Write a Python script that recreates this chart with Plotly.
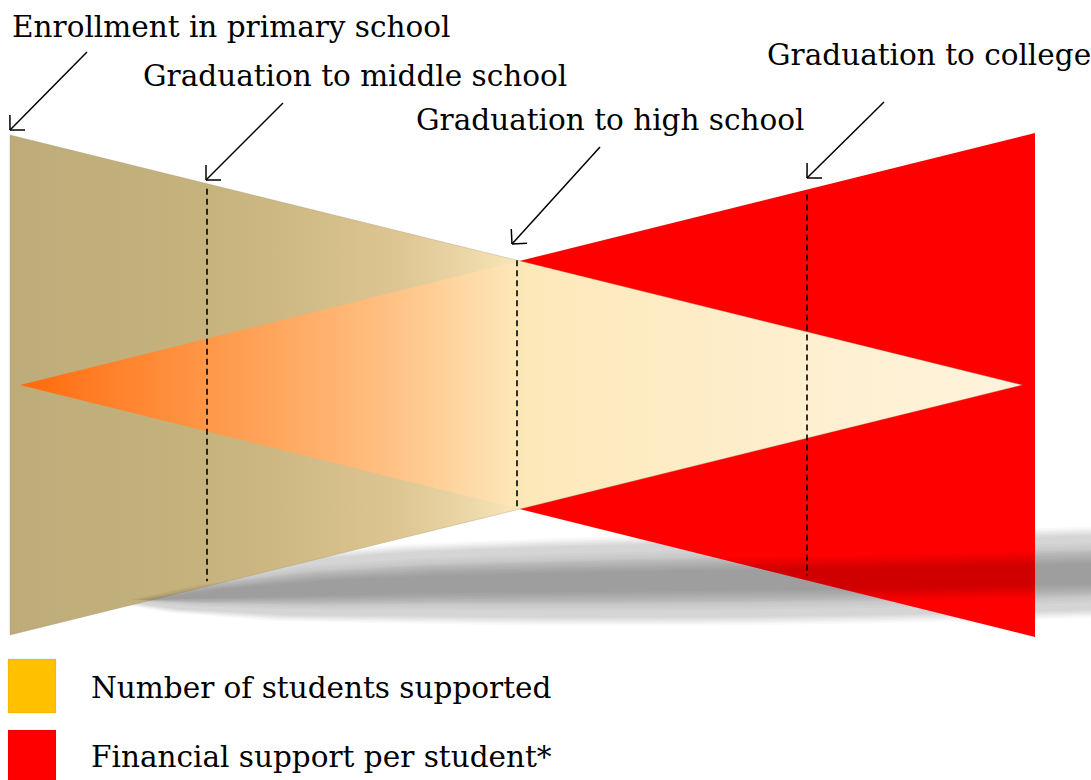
import numpy as np
import plotly.graph_objects as go

# ---------------- data ----------------
stages = ["Enrollment in primary school", "Graduation to middle school",
          "Graduation to high school", "Graduation to college"]
stage_x = [10, 207, 517, 807]          # position of each stage along the pipeline

# "Number of students supported" (half-width of the band) along the pipeline
students_x = [10, 1022]
students_span = [250, 0]

# "Financial support per student*" (half-width of the band) along the pipeline
support_x = [20, 1035]
support_span = [0, 252]

legend_labels = ["Number of students supported", "Financial support per student*"]
legend_colors = ["#FFC000", "#FF0000"]

CENTER = 385
FONT = "DejaVu Serif"
FSIZE = 29.5

fig = go.Figure()

def band_polygon(xs, spans):
    top = [CENTER - s for s in spans]
    bot = [CENTER + s for s in spans]
    px = list(xs) + list(xs[::-1]) + [xs[0]]
    py = top + bot[::-1] + [top[0]]
    return px, py

# soft shadow built from nested translucent lenses
sh_x = np.array([100, 170, 280, 400, 550, 700, 850, 1000, 1100])
sh_c = np.array([600, 594, 588, 584, 582, 580, 578, 575, 572])     # centre line
sh_h = np.array([0, 18, 32, 38, 42, 44, 44, 44, 44])               # outer half-thickness

def add_shadow(layers, xshift=0):
    for k, alpha in layers:
        xs = sh_x + xshift * (1 - k)
        top = sh_c - sh_h * k
        bot = sh_c + sh_h * k
        px = list(xs) + list(xs[::-1]) + [xs[0]]
        py = list(top) + list(bot[::-1]) + [top[0]]
        fig.add_trace(go.Scatter(x=px, y=py, mode="lines", line=dict(width=0),
                                 fill="toself", fillcolor=f"rgba(0,0,0,{alpha})",
                                 hoverinfo="skip", showlegend=False))

behind = [(k, 0.025) for k in (1.04, 1.0, 0.97, 0.94, 0.91, 0.88, 0.85)] + \
         [(k, 0.02) for k in (0.68, 0.62, 0.56, 0.5)]
add_shadow(behind, xshift=60)

# ---- financial support band (red) ----
rx, ry = band_polygon(support_x, support_span)
fig.add_trace(go.Scatter(x=rx, y=ry, mode="lines", line=dict(width=0),
                         fill="toself", fillcolor="#FF0000",
                         hoverinfo="skip", showlegend=False))

# ---- number of students band (tan -> cream) ----
tx, ty = band_polygon(students_x, students_span)
x0, x1 = students_x
def f(p):
    return (p - x0) / (x1 - x0)
fig.add_trace(go.Scatter(
    x=tx, y=ty, mode="lines", line=dict(width=0.6, color="rgba(150,140,110,0.5)"),
    fill="toself",
    fillgradient=dict(type="horizontal", start=x0, stop=x1, colorscale=[
        [0, "#BDAC7A"], [f(200), "#C5B27D"], [f(300), "#D0BA85"], [f(400), "#DDC692"],
        [f(470), "#ECD7A8"], [f(512), "#F8E4B6"], [f(525), "#FDE8B9"],
        [f(800), "#FEEFCF"], [1, "#FEF3DC"]]),
    hoverinfo="skip", showlegend=False))

# ---- overlap region left of the high-school stage (orange -> cream) ----
mid = stage_x[2]
span_mid = min(np.interp(mid, students_x, students_span), np.interp(mid, support_x, support_span))
ox = [support_x[0], mid, mid, support_x[0]]
oy = [CENTER, CENTER - span_mid, CENTER + span_mid, CENTER]
fig.add_trace(go.Scatter(
    x=ox, y=oy, mode="lines", line=dict(width=0), fill="toself",
    fillgradient=dict(type="horizontal", start=support_x[0], stop=mid, colorscale=[
        [0, "#FF690A"], [0.17, "#FF7F28"], [0.37, "#FE9646"], [0.57, "#FFAC66"],
        [0.77, "#FFC488"], [0.92, "#FDDCA8"], [1, "#FDE7B8"]]),
    hoverinfo="skip", showlegend=False))

# ---- shadow darkening over the shapes (core) ----
add_shadow([(k, 0.025) for k in (0.52, 0.48, 0.44, 0.40, 0.36, 0.32, 0.28, 0.24)], xshift=60)

# ---- dashed stage markers ----
for xs in stage_x[1:]:
    s = max(np.interp(xs, students_x, students_span), np.interp(xs, support_x, support_span))
    inset = 0 if xs == mid else 5
    fig.add_trace(go.Scatter(x=[xs, xs], y=[CENTER - s + inset, CENTER + s - inset],
                             mode="lines", line=dict(color="black", width=1.6, dash="6px,4px"),
                             hoverinfo="skip", showlegend=False))

# ---- stage labels with arrows ----
label_pos = [(10, 27), (141, 76), (414, 120), (765, 55)]
arrow_tail = [(87, 52), (283, 103), (600, 147), (884, 102)]
arrow_tip = [(10, 130), (206, 180), (512, 244), (807, 178)]

for name, (lx, ly) in zip(stages, label_pos):
    fig.add_annotation(x=lx, y=ly, text=name, showarrow=False, xanchor="left",
                       yanchor="middle", font=dict(family=FONT, size=FSIZE, color="black"))

ax_, ay_ = [], []
for (tx0, ty0), (hx, hy) in zip(arrow_tail, arrow_tip):
    ax_ += [tx0, hx, None]
    ay_ += [ty0, hy, None]
    d = np.array([tx0 - hx, ty0 - hy], dtype=float)
    d /= np.linalg.norm(d)
    for ang in (np.pi / 4, -np.pi / 4):
        c, s_ = np.cos(ang), np.sin(ang)
        v = np.array([c * d[0] - s_ * d[1], s_ * d[0] + c * d[1]]) * 15
        ax_ += [hx, hx + v[0], None]
        ay_ += [hy, hy + v[1], None]
fig.add_trace(go.Scatter(x=ax_, y=ay_, mode="lines", line=dict(color="black", width=1.5),
                         hoverinfo="skip", showlegend=False))

# ---- legend ----
leg_box = [(8, 659, 56, 713), (8, 730, 56, 790)]
leg_text_y = [688, 757]
for lab, col, (bx0, by0, bx1, by1), yy in zip(legend_labels, legend_colors, leg_box, leg_text_y):
    fig.add_shape(type="rect", x0=bx0, y0=by0, x1=bx1, y1=by1, fillcolor=col,
                  line=dict(width=0.5, color="rgba(0,0,0,0.15)"), layer="above")
    fig.add_annotation(x=89, y=yy, text=lab, showarrow=False, xanchor="left", yanchor="middle",
                       font=dict(family=FONT, size=FSIZE, color="black"))

fig.update_layout(
    width=1091, height=780, margin=dict(l=0, r=0, t=0, b=0),
    paper_bgcolor="white", plot_bgcolor="white", showlegend=False,
    xaxis=dict(range=[0, 1091], visible=False, fixedrange=True),
    yaxis=dict(range=[780, 0], visible=False, fixedrange=True),
)

fig.write_html("out.html", include_plotlyjs=True, config={"displayModeBar": False},
               post_script="document.body.style.margin='0';document.body.style.overflow='hidden';")
